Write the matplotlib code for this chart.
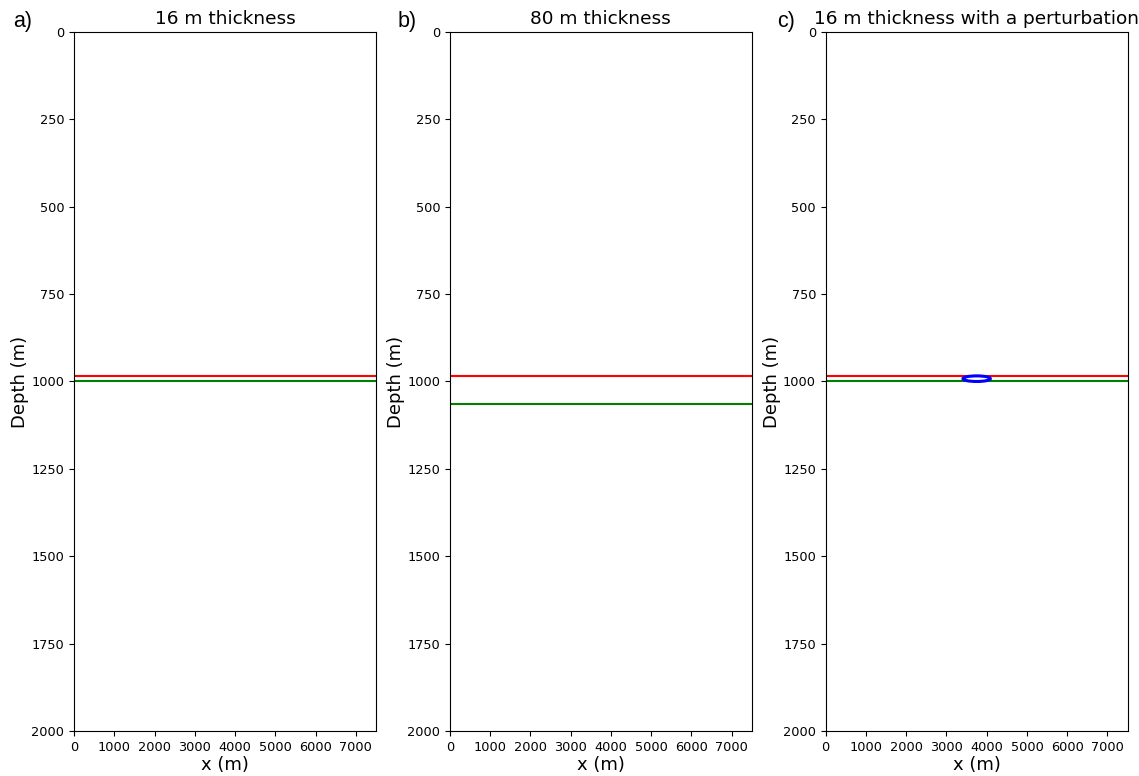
import matplotlib.pyplot as plt
from matplotlib.patches import Ellipse

# model extent
x_max = 7500
depth_max = 2000

# layer top / base depths (m) per panel
titles = ["16 m thickness", "80 m thickness", "16 m thickness with a perturbation"]
panel_tags = ["a)", "b)", "c)"]
top_depth = [984, 984, 984]
base_depth = [1000, 1064, 1000]

# perturbation in panel c: centre x, centre depth, width, height (m)
pert_x = 3750
pert_z = 992
pert_w = 680
pert_h = 16

fig, axes = plt.subplots(1, 3, figsize=(11.39, 7.76), dpi=100)
fig.subplots_adjust(left=0.065, right=0.990, top=0.9588, bottom=0.058, wspace=0.245)

for i, ax in enumerate(axes):
    ax.axhline(top_depth[i], color="red", lw=1.5)
    ax.axhline(base_depth[i], color="green", lw=1.5)
    if i == 2:
        ax.add_patch(Ellipse((pert_x, pert_z), pert_w, pert_h, facecolor="white",
                             edgecolor="blue", lw=2.2, zorder=3))
    ax.set_xlim(0, x_max)
    ax.set_ylim(depth_max, 0)
    ax.set_xticks(range(0, 7001, 1000))
    ax.set_yticks(range(0, 2001, 250))
    ax.tick_params(labelsize=9.3)
    ax.set_xlabel("x (m)", fontsize=13, labelpad=1.5)
    ax.set_ylabel("Depth (m)", fontsize=13, labelpad=1.5)
    ax.set_title(titles[i], fontsize=13.3)

tag_x = [13, 398, 777]
for tx, tag in zip(tag_x, panel_tags):
    fig.text(tx / 1139, 1 - 21 / 776, tag, fontsize=15.5, family="Liberation Sans",
             va="center", ha="left")

fig.savefig("out.png", dpi=100)
